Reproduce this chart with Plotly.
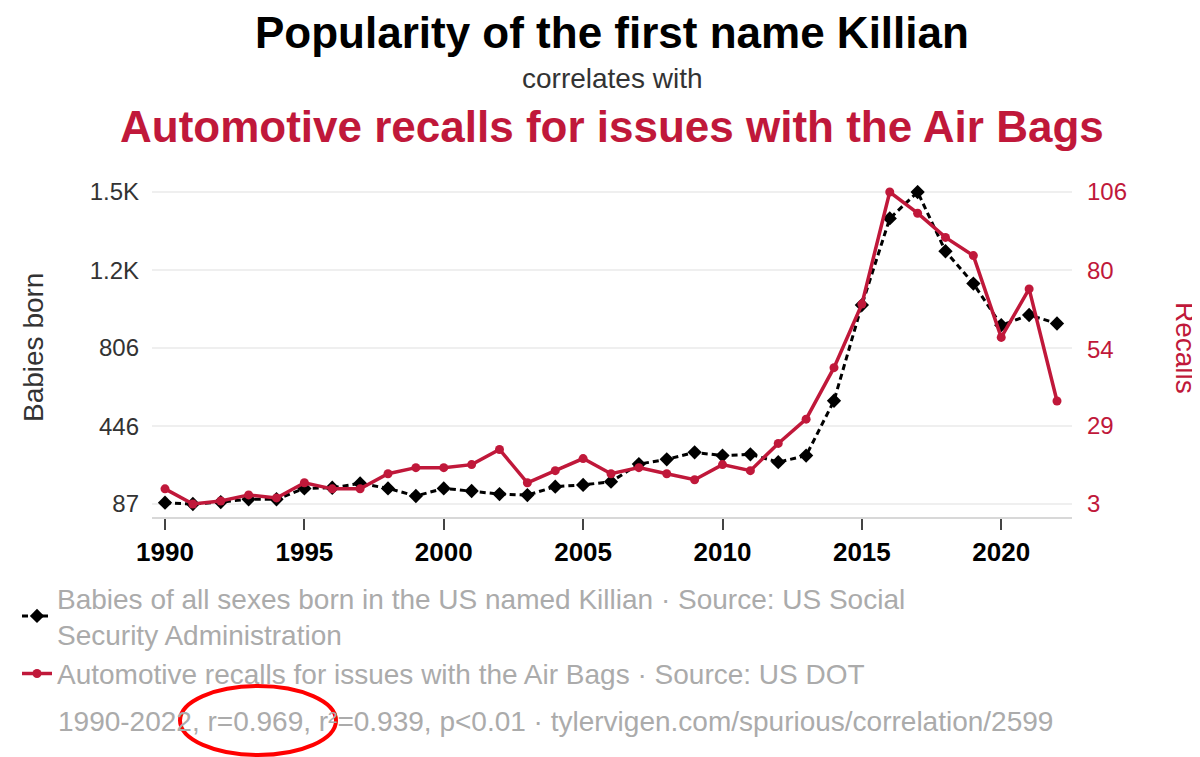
import plotly.graph_objects as go

years = list(range(1990, 2023))
babies = [93, 87, 96, 109, 109, 159, 162, 182, 159, 124, 159, 147, 133, 128, 167,
          175, 190, 271, 293, 325, 310, 316, 280, 310, 563, 1004, 1403, 1525, 1252,
          1103, 911, 958, 919]
recalls = [8, 3, 4, 6, 5, 10, 8, 8, 13, 15, 15, 16, 21, 10, 14, 18, 13, 15, 13, 11,
           16, 14, 23, 31, 48, 69, 106, 99, 91, 85, 58, 74, 37]

left_tickvals = [87, 446, 806, 1165, 1525]
left_ticktext = ["87", "446", "806", "1.2K", "1.5K"]
right_tickvals = [3, 29, 54, 80, 106]
right_ticktext = ["3", "29", "54", "80", "106"]
x_tickvals = [1990, 1995, 2000, 2005, 2010, 2015, 2020]

RED = "#c0183a"
FONT = "Liberation Sans, Arial, sans-serif"

# page body margin offset (px) and screen-space plot area
OFF = 8
L, R, T, B = 152, 1072, 185, 517
W, H = 1200 - OFF, 757 - OFF


def px_x(p):
    return (p - L) / (R - L)


def px_y(p):
    return (B - p) / (B - T)


fig = go.Figure()
fig.add_trace(go.Scatter(
    x=years, y=babies, mode="lines+markers",
    name="Babies of all sexes born in the US named Killian · Source: US Social<br>Security Administration",
    line=dict(color="black", width=3, dash="6px,4px"),
    marker=dict(symbol="diamond", size=11, color="black"),
    yaxis="y",
))
fig.add_trace(go.Scatter(
    x=years, y=recalls, mode="lines+markers",
    name="Automotive recalls for issues with the Air Bags · Source: US DOT",
    line=dict(color=RED, width=3.5),
    marker=dict(symbol="circle", size=9, color=RED),
    yaxis="y2",
))

fig.update_layout(
    width=W, height=H,
    margin=dict(l=L - OFF, r=1200 - R, t=T - OFF, b=757 - B, autoexpand=False),
    paper_bgcolor="white", plot_bgcolor="white",
    font=dict(family=FONT, color="#333"),
    showlegend=True,
    legend=dict(
        x=px_x(17), y=px_y(573), xanchor="left", yanchor="top",
        font=dict(size=28, color="#ababab", family=FONT),
        bgcolor="rgba(0,0,0,0)", tracegroupgap=4,
    ),
    xaxis=dict(
        range=[1990 - 13 / 27.86, 2022 + 15 / 27.86],
        tickvals=x_tickvals,
        tickfont=dict(size=26, color="black", family=FONT, weight="bold"),
        showgrid=False, zeroline=False,
        showline=True, linecolor="#d8d8d8", linewidth=2,
        ticks="outside", ticklen=11, tickwidth=2, tickcolor="#444",
    ),
    yaxis=dict(
        range=[87 - 13 * 4.606, 1525 + 7 * 4.606],
        tickvals=left_tickvals, ticktext=left_ticktext,
        tickfont=dict(size=24, color="#333", family=FONT),
        showgrid=True, gridcolor="#efefef", gridwidth=2,
        zeroline=False, showline=False, ticks="",
        ticklabelstandoff=12,
    ),
    yaxis2=dict(
        range=[3 - 13 * 0.3301, 106 + 7 * 0.3301],
        tickvals=right_tickvals, ticktext=right_ticktext,
        tickfont=dict(size=24, color=RED, family=FONT),
        overlaying="y", side="right",
        showgrid=False, zeroline=False, showline=False, ticks="",
        ticklabelstandoff=14,
    ),
)

annotations = [
    dict(text="<b>Popularity of the first name Killian</b>", x=px_x(612), y=px_y(32),
         font=dict(size=44, color="black", family=FONT)),
    dict(text="correlates with", x=px_x(612), y=px_y(78),
         font=dict(size=28, color="#333", family=FONT)),
    dict(text="<b>Automotive recalls for issues with the Air Bags</b>", x=px_x(612), y=px_y(126),
         font=dict(size=44, color=RED, family=FONT)),
    dict(text="Babies born", x=px_x(33), y=px_y(348), textangle=-90,
         font=dict(size=28, color="#333", family=FONT)),
    dict(text="Recalls", x=px_x(1186), y=px_y(348), textangle=90,
         font=dict(size=28, color=RED, family=FONT)),
]
for a in annotations:
    a.update(xref="paper", yref="paper", xanchor="center", yanchor="middle", showarrow=False)
    fig.add_annotation(**a)

fig.add_annotation(
    text="1990-2022, r=0.969, r²=0.939, p<0.01 · tylervigen.com/spurious/correlation/2599",
    xref="paper", yref="paper", x=px_x(56), y=px_y(721), xanchor="left", yanchor="middle",
    showarrow=False, font=dict(size=28, color="#ababab", family=FONT),
)

fig.add_shape(
    type="circle", xref="paper", yref="paper",
    x0=px_x(180), x1=px_x(336), y0=px_y(755), y1=px_y(686),
    line=dict(color="#ff0000", width=4),
)

fig.write_html("out.html")
